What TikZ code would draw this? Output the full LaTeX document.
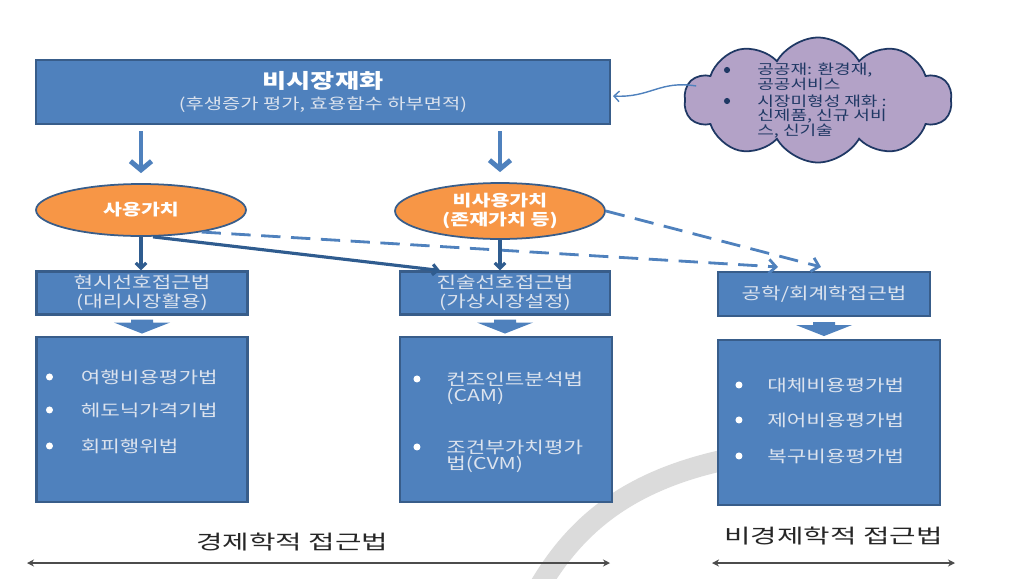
\documentclass[tikz,border=0pt]{standalone}
\usepackage{fontspec}
\setmainfont{Noto Sans CJK KR}[FakeStretch=1.3]
\newfontfamily\capfont{Noto Sans CJK KR}[FakeStretch=1.45]
\usetikzlibrary{%
  shapes.geometric,
  shapes.symbols,
  arrows.meta,
  calc,
  positioning%
}
\definecolor{boxblue}{HTML}{4F81BD}
\definecolor{boxedge}{HTML}{385D8A}
\definecolor{ovalorange}{HTML}{F79646}
\definecolor{cloudlilac}{HTML}{B3A2C7}
\definecolor{navy}{HTML}{1F3864}
\definecolor{itemtext}{HTML}{DCE3EE}
\definecolor{linkblue}{HTML}{2F5C8F}
\tikzset{
  bluebox/.style={
    draw=boxedge,
    line width=1.2pt,
    fill=boxblue,
    text=itemtext,
    align=center,
    inner sep=0pt,
    font=\fontsize{9.3}{11}\selectfont
  },
  oval/.style={
    ellipse,
    draw=boxedge,
    line width=1pt,
    fill=ovalorange,
    text=white,
    align=center,
    inner sep=0pt,
    font=\bfseries\fontsize{9}{11}\selectfont
  },
  item/.style={anchor=west, text=itemtext, inner sep=0pt, font=\fontsize{9.3}{11}\selectfont},
  dot/.style={circle, fill=#1, inner sep=0pt, minimum size=4pt},
  note/.style={anchor=west, text=navy, inner sep=0pt, font=\fontsize{7.9}{9}\selectfont},
  down/.style={line width=2.8pt, draw=boxblue, -{Straight Barb[length=5pt,width=12pt]}},
  feed/.style={line width=1.8pt, draw=linkblue, -{Straight Barb[length=3pt,width=6pt]}},
  hint/.style={line width=1.6pt, draw=boxblue, dash pattern=on 11pt off 6pt, -{Straight Barb[length=4pt,width=8pt]}},
  span/.style={line width=1.2pt, draw=black!70, {Stealth[length=4pt,width=4pt]}-{Stealth[length=4pt,width=4pt]}},
  drop/.pic={
    \fill[boxblue] (-11,0) -- (11,0) -- (11,3) -- (28,3) -- (0,14) -- (-28,3) -- (-11,3) -- cycle;
  }
}

\begin{document}
\begin{tikzpicture}[x=0.02cm, y=-0.02cm]
\useasboundingbox (0,0) rectangle (1026,578);
\draw[line width=12pt, black!14] (532,600) .. controls (572,525) and (630,475) .. (750,455);

\node[bluebox, minimum width=11.48cm, minimum height=1.28cm] (goods) at (323,92)
  {{\bfseries\color{white}\fontsize{11.5}{13}\selectfont 비시장재화}\\[1pt]{\fontsize{8.7}{10}\selectfont(후생증가 평가, 효용함수 하부면적)}};
\node[cloud, cloud puffs=10, cloud puff arc=120, cloud ignores aspect, draw=navy, line width=1pt,
  fill=cloudlilac, minimum width=5.35cm, minimum height=2.5cm] (cloud) at (818,100) {};
\foreach \yy in {-30,1} {
  \node[dot=navy, minimum size=3.5pt] (cdot\yy) at ($(cloud.center)+(-91,\yy)$) {};
}
\foreach \yy/\txt in {%
  -30/{공공재: 환경재,},
  -16/{공공서비스},
  1/{시장미형성 재화 :},
  16/{신제품, 신규 서비},
  31/{스, 신기술}%
} {
  \node[note] (cline\yy) at ($(cloud.center)+(-61,\yy)$) {\txt};
}
\draw[boxblue, line width=0.8pt, -{Straight Barb[length=3pt,width=6pt]}]
  ($(cloud.west)+(12,-14)$) .. controls (660,80) and (650,98) .. ($(goods.east)+(2,4)$);

\node[oval, minimum width=4.2cm, minimum height=1.04cm] (use) at (141,210) {사용가치};
\node[oval, minimum width=4.2cm, minimum height=1.12cm] (nonuse) at (500,211) {비사용가치\\(존재가치 등)};
\draw[down] ($(goods.south -| use)+(0,6)$) -- ($(use.north)+(0,-10)$);
\draw[down] ($(goods.south -| nonuse)+(0,6)$) -- ($(nonuse.north)+(0,-10)$);

\node[bluebox, minimum width=4.22cm, minimum height=0.86cm] (revealed) at (142,293) {현시선호접근법\\(대리시장활용)};
\node[bluebox, minimum width=4.2cm, minimum height=0.86cm] (stated) at (505,293) {진술선호접근법\\(가상시장설정)};
\node[bluebox, minimum width=4.24cm, minimum height=0.88cm] (engineer) at (824,294) {공학/회계학접근법};

\draw[hint] (use.-20) -- ($(engineer.north)+(-46,-4)$);
\draw[hint] (nonuse.east) -- ($(engineer.north)+(-3,-4)$);
\draw[feed] (use.south) -- (use.south |- revealed.north);
\draw[feed] ($(use.south)+(12,0)$) -- ($(stated.north)+(-65,0)$);
\draw[feed] (nonuse.south) -- (nonuse.south |- stated.north);

\pic at ($(revealed.south)+(0,4)$) {drop};
\pic at ($(stated.south)+(0,4)$) {drop};
\pic at ($(engineer.south)+(0,5)$) {drop};

\node[bluebox, minimum width=4.22cm, minimum height=3.3cm] (market) at (142,419.5) {};
\node[bluebox, minimum width=4.24cm, minimum height=3.3cm] (survey) at (506,419.5) {};
\node[bluebox, minimum width=4.44cm, minimum height=3.3cm] (cost) at (829,422.5) {};

\foreach \yy/\txt in {41/여행비용평가법, 74/헤도닉가격기법, 110/회피행위법} {
  \node[dot=white] (mdot\yy) at ($(market.north west)+(14,\yy)$) {};
  \node[item] (mtext\yy) at ($(market.north west)+(45,\yy)$) {\txt};
}
\foreach \yy in {43,111} {
  \node[dot=white] (sdot\yy) at ($(survey.north west)+(18,\yy)$) {};
}
\foreach \yy/\txt in {43/컨조인트분석법, 60/(CAM), 111/조건부가치평가, 128/법(CVM)} {
  \node[item] (stext\yy) at ($(survey.north west)+(47,\yy)$) {\txt};
}
\foreach \yy/\txt in {46/대체비용평가법, 81/제어비용평가법, 117/복구비용평가법} {
  \node[dot=white] (cdot\yy) at ($(cost.north west)+(22,\yy)$) {};
  \node[item] (ctext\yy) at ($(cost.north west)+(50,\yy)$) {\txt};
}

\coordinate (econL) at (27,563);
\coordinate (econR) at (610,563);
\coordinate (nonL) at (712,563);
\coordinate (nonR) at (955,563);
\draw[span] (econL) -- (econR) node[pos=0.455, above=3pt, text=black!85, font=\capfont\fontsize{11.3}{13}\selectfont] (econ) {경제학적 접근법};
\draw[span] (nonL) -- (nonR) node[midway, above=6pt, text=black!85, font=\capfont\fontsize{11.3}{13}\selectfont] (noneco) {비경제학적 접근법};
\end{tikzpicture}
\end{document}
